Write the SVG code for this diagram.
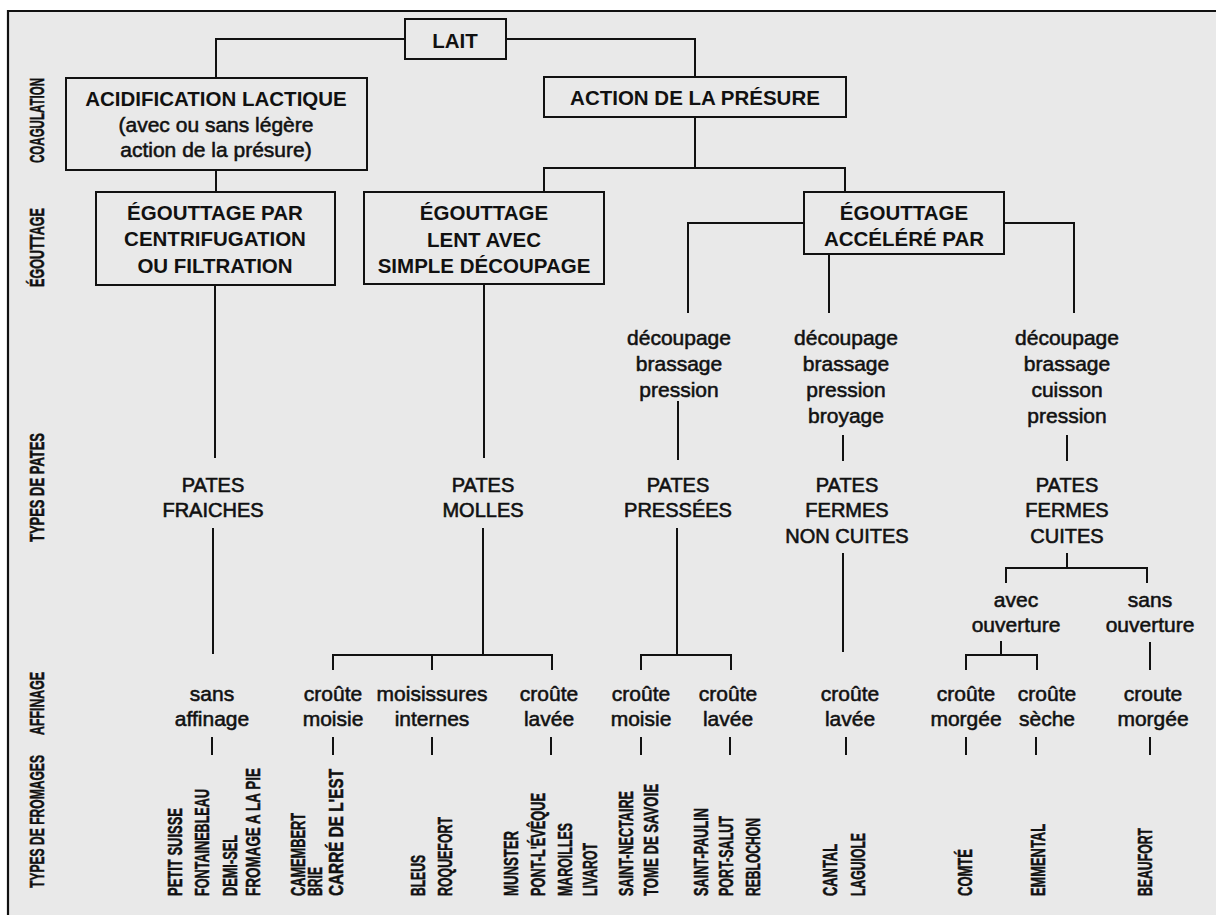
<svg xmlns="http://www.w3.org/2000/svg" width="1216" height="915" viewBox="0 0 1216 915">
<style>
.bg{fill:#e9e9e9}
.frame{fill:none;stroke:#111;stroke-width:2.2}
.box{fill:none;stroke:#111;stroke-width:2}
.ln{fill:none;stroke:#111;stroke-width:2}
text{font-family:"Liberation Sans",Arial,sans-serif;fill:#111;text-anchor:middle}
.b{font-size:20.5px;font-weight:bold}
.r{font-size:21px;stroke:#111;stroke-width:0.55}
.u{font-size:20px;stroke:#111;stroke-width:0.6}
.v{font-size:21px;font-weight:bold;text-anchor:start;stroke:#111;stroke-width:0.5}
</style>
<rect x="0" y="0" width="1216" height="915" fill="#ffffff"/>
<rect class="bg" x="8" y="11" width="1208" height="904"/>
<path class="frame" d="M8,915 V11 H1216"/>

<g id="axis-labels">
<text class="v" transform="translate(44,163) rotate(-90)" textLength="85" lengthAdjust="spacingAndGlyphs">COAGULATION</text>
<text class="v" transform="translate(44,287) rotate(-90)" textLength="79" lengthAdjust="spacingAndGlyphs">ÉGOUTTAGE</text>
<text class="v" transform="translate(44,542) rotate(-90)" textLength="109" lengthAdjust="spacingAndGlyphs">TYPES DE PATES</text>
<text class="v" transform="translate(44,735) rotate(-90)" textLength="63" lengthAdjust="spacingAndGlyphs">AFFINAGE</text>
<text class="v" transform="translate(44,888) rotate(-90)" textLength="133" lengthAdjust="spacingAndGlyphs">TYPES DE FROMAGES</text>
</g>

<g id="connectors">
<path class="ln" d="M405,39 H216 V78"/>
<path class="ln" d="M506,39 H695 V77"/>
<path class="ln" d="M216,170 V192"/>
<path class="ln" d="M695,117 V168"/>
<path class="ln" d="M544,192 V168 H845 V192"/>
<path class="ln" d="M215,285 V458"/>
<path class="ln" d="M484,284 V458"/>
<path class="ln" d="M804,223 H688 V313"/>
<path class="ln" d="M1004,223 H1074 V313"/>
<path class="ln" d="M829,254 V313"/>
<path class="ln" d="M678,401 V460"/>
<path class="ln" d="M843,435 V461"/>
<path class="ln" d="M1067,435 V461"/>
<path class="ln" d="M213,528 V654"/>
<path class="ln" d="M483,528 V655"/>
<path class="ln" d="M333,670 V655 H552 V670"/>
<path class="ln" d="M432,655 V670"/>
<path class="ln" d="M677,528 V655"/>
<path class="ln" d="M641,670 V655 H731 V670"/>
<path class="ln" d="M843,553 V652"/>
<path class="ln" d="M1067,553 V568"/>
<path class="ln" d="M1006,583 V568 H1147 V583"/>
<path class="ln" d="M1001,641 V655"/>
<path class="ln" d="M966,670 V655 H1037 V670"/>
<path class="ln" d="M1150,642 V670"/>
<path class="ln" d="M212,737 V755 M333,737 V755 M432,737 V755 M551,737 V755 M641,737 V755 M730,737 V755 M846,737 V755 M966,737 V755 M1036,737 V755 M1150,737 V755"/>
</g>

<g id="lait">
<rect class="box" x="405" y="19" width="101" height="40"/>
<text class="b" x="455" y="48">LAIT</text>
</g>
<g id="acidification">
<rect class="box" x="66" y="78" width="301" height="92"/>
<text class="b" x="216" y="106">ACIDIFICATION LACTIQUE</text>
<text class="r" x="216" y="132">(avec ou sans légère</text>
<text class="r" x="216" y="157">action de la présure)</text>
</g>
<g id="presure">
<rect class="box" x="544" y="77" width="302" height="40"/>
<text class="b" x="695" y="105">ACTION DE LA PRÉSURE</text>
</g>
<g id="egouttage-centrifugation">
<rect class="box" x="96" y="192" width="239" height="93"/>
<text class="b" x="215" y="220">ÉGOUTTAGE PAR</text>
<text class="b" x="215" y="246">CENTRIFUGATION</text>
<text class="b" x="215" y="273">OU FILTRATION</text>
</g>
<g id="egouttage-lent">
<rect class="box" x="364" y="192" width="240" height="92"/>
<text class="b" x="484" y="220">ÉGOUTTAGE</text>
<text class="b" x="484" y="247">LENT AVEC</text>
<text class="b" x="484" y="273">SIMPLE DÉCOUPAGE</text>
</g>
<g id="egouttage-accelere">
<rect class="box" x="804" y="192" width="200" height="62"/>
<text class="b" x="904" y="220">ÉGOUTTAGE</text>
<text class="b" x="904" y="246">ACCÉLÉRÉ PAR</text>
</g>

<g id="procede-1">
<text class="r" x="679" y="345">découpage</text>
<text class="r" x="679" y="371">brassage</text>
<text class="r" x="679" y="397">pression</text>
</g>
<g id="procede-2">
<text class="r" x="846" y="345">découpage</text>
<text class="r" x="846" y="371">brassage</text>
<text class="r" x="846" y="397">pression</text>
<text class="r" x="846" y="423">broyage</text>
</g>
<g id="procede-3">
<text class="r" x="1067" y="345">découpage</text>
<text class="r" x="1067" y="371">brassage</text>
<text class="r" x="1067" y="397">cuisson</text>
<text class="r" x="1067" y="423">pression</text>
</g>

<g id="pates-fraiches">
<text class="u" x="213" y="492">PATES</text>
<text class="u" x="213" y="517">FRAICHES</text>
</g>
<g id="pates-molles">
<text class="u" x="483" y="492">PATES</text>
<text class="u" x="483" y="517">MOLLES</text>
</g>
<g id="pates-pressees">
<text class="u" x="678" y="492">PATES</text>
<text class="u" x="678" y="517">PRESSÉES</text>
</g>
<g id="pates-fermes-non-cuites">
<text class="u" x="847" y="492">PATES</text>
<text class="u" x="847" y="517">FERMES</text>
<text class="u" x="847" y="543">NON CUITES</text>
</g>
<g id="pates-fermes-cuites">
<text class="u" x="1067" y="492">PATES</text>
<text class="u" x="1067" y="517">FERMES</text>
<text class="u" x="1067" y="543">CUITES</text>
</g>
<g id="avec-ouverture">
<text class="r" x="1016" y="607">avec</text>
<text class="r" x="1016" y="632">ouverture</text>
</g>
<g id="sans-ouverture">
<text class="r" x="1150" y="607">sans</text>
<text class="r" x="1150" y="632">ouverture</text>
</g>

<g id="aff-sans">
<text class="r" x="212" y="701">sans</text>
<text class="r" x="212" y="726">affinage</text>
</g>
<g id="aff-molles-moisie">
<text class="r" x="333" y="701">croûte</text>
<text class="r" x="333" y="726">moisie</text>
</g>
<g id="aff-moisissures">
<text class="r" x="432" y="701">moisissures</text>
<text class="r" x="432" y="726">internes</text>
</g>
<g id="aff-molles-lavee">
<text class="r" x="549" y="701">croûte</text>
<text class="r" x="549" y="726">lavée</text>
</g>
<g id="aff-pressees-moisie">
<text class="r" x="641" y="701">croûte</text>
<text class="r" x="641" y="726">moisie</text>
</g>
<g id="aff-pressees-lavee">
<text class="r" x="728" y="701">croûte</text>
<text class="r" x="728" y="726">lavée</text>
</g>
<g id="aff-noncuites-lavee">
<text class="r" x="850" y="701">croûte</text>
<text class="r" x="850" y="726">lavée</text>
</g>
<g id="aff-morgee">
<text class="r" x="966" y="701">croûte</text>
<text class="r" x="966" y="726">morgée</text>
</g>
<g id="aff-seche">
<text class="r" x="1047" y="701">croûte</text>
<text class="r" x="1047" y="726">sèche</text>
</g>
<g id="aff-croute-morgee">
<text class="r" x="1153" y="701">croute</text>
<text class="r" x="1153" y="726">morgée</text>
</g>

<g id="fromages-fraiches">
<text class="v" transform="translate(182,896) rotate(-90)" textLength="88" lengthAdjust="spacingAndGlyphs">PETIT SUISSE</text>
<text class="v" transform="translate(209,896) rotate(-90)" textLength="107" lengthAdjust="spacingAndGlyphs">FONTAINEBLEAU</text>
<text class="v" transform="translate(237,896) rotate(-90)" textLength="61" lengthAdjust="spacingAndGlyphs">DEMI-SEL</text>
<text class="v" transform="translate(260,896) rotate(-90)" textLength="128" lengthAdjust="spacingAndGlyphs">FROMAGE A LA PIE</text>
</g>
<g id="fromages-molles-moisie">
<text class="v" transform="translate(305,896) rotate(-90)" textLength="83" lengthAdjust="spacingAndGlyphs">CAMEMBERT</text>
<text class="v" transform="translate(322,896) rotate(-90)" textLength="29" lengthAdjust="spacingAndGlyphs">BRIE</text>
<text class="v" transform="translate(343,896) rotate(-90)" textLength="127" lengthAdjust="spacingAndGlyphs">CARRÉ DE L'EST</text>
</g>
<g id="fromages-bleus">
<text class="v" transform="translate(425,896) rotate(-90)" textLength="41" lengthAdjust="spacingAndGlyphs">BLEUS</text>
<text class="v" transform="translate(452,896) rotate(-90)" textLength="79" lengthAdjust="spacingAndGlyphs">ROQUEFORT</text>
</g>
<g id="fromages-molles-lavee">
<text class="v" transform="translate(518,896) rotate(-90)" textLength="65" lengthAdjust="spacingAndGlyphs">MUNSTER</text>
<text class="v" transform="translate(545,896) rotate(-90)" textLength="103" lengthAdjust="spacingAndGlyphs">PONT-L'ÉVÊQUE</text>
<text class="v" transform="translate(572,896) rotate(-90)" textLength="73" lengthAdjust="spacingAndGlyphs">MAROILLES</text>
<text class="v" transform="translate(597,896) rotate(-90)" textLength="53" lengthAdjust="spacingAndGlyphs">LIVAROT</text>
</g>
<g id="fromages-pressees-moisie">
<text class="v" transform="translate(633,896) rotate(-90)" textLength="105" lengthAdjust="spacingAndGlyphs">SAINT-NECTAIRE</text>
<text class="v" transform="translate(658,896) rotate(-90)" textLength="112" lengthAdjust="spacingAndGlyphs">TOME DE SAVOIE</text>
</g>
<g id="fromages-pressees-lavee">
<text class="v" transform="translate(708,896) rotate(-90)" textLength="88" lengthAdjust="spacingAndGlyphs">SAINT-PAULIN</text>
<text class="v" transform="translate(733,896) rotate(-90)" textLength="80" lengthAdjust="spacingAndGlyphs">PORT-SALUT</text>
<text class="v" transform="translate(760,896) rotate(-90)" textLength="78" lengthAdjust="spacingAndGlyphs">REBLOCHON</text>
</g>
<g id="fromages-non-cuites">
<text class="v" transform="translate(837,896) rotate(-90)" textLength="52" lengthAdjust="spacingAndGlyphs">CANTAL</text>
<text class="v" transform="translate(865,896) rotate(-90)" textLength="63" lengthAdjust="spacingAndGlyphs">LAGUIOLE</text>
</g>
<g id="fromage-comte">
<text class="v" transform="translate(972,896) rotate(-90)" textLength="47" lengthAdjust="spacingAndGlyphs">COMTÉ</text>
</g>
<g id="fromage-emmental">
<text class="v" transform="translate(1045,896) rotate(-90)" textLength="72" lengthAdjust="spacingAndGlyphs">EMMENTAL</text>
</g>
<g id="fromage-beaufort">
<text class="v" transform="translate(1152,896) rotate(-90)" textLength="68" lengthAdjust="spacingAndGlyphs">BEAUFORT</text>
</g>
</svg>
